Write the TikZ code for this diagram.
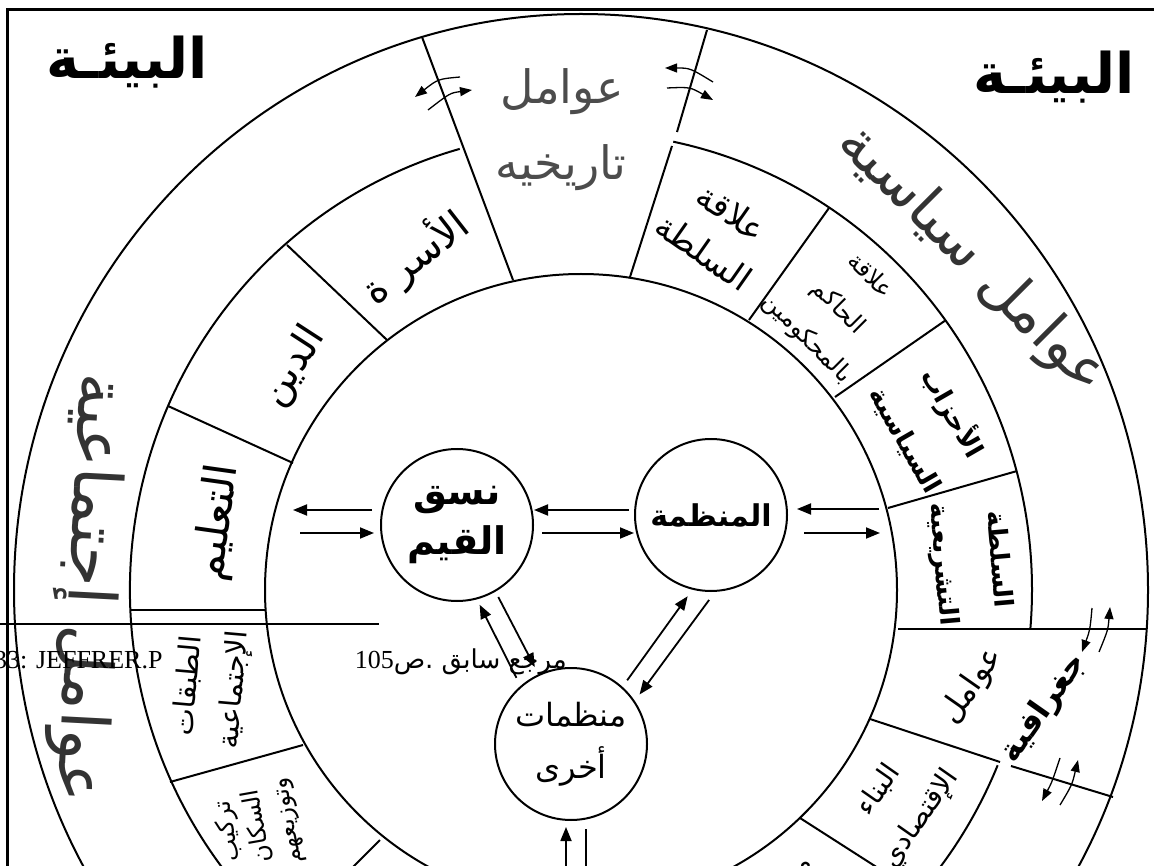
\documentclass[tikz,border=0pt]{standalone}
\usepackage{fontspec}
\usetikzlibrary{arrows.meta}
\newfontfamily\arabfont[Script=Arabic]{DejaVu Sans}
\newfontfamily\latinfont{Liberation Serif}
\TeXXeTstate=1
\newcommand{\artext}[1]{\beginR#1\endR}
\newcommand{\arsz}[2]{\arabfont\fontsize{#1}{#2}\selectfont}

\begin{document}
\begin{tikzpicture}[x=1pt,y=-1pt,
  ring/.style={line width=2pt},
  arr/.style={-{Triangle[length=14pt,width=11pt]},line width=1.8pt},
  swing/.style={-{Triangle[length=12pt,width=9pt]},line width=1.3pt},
  actor/.style={circle,draw,line width=2pt,minimum size=152pt,inner sep=0pt,align=center},
  lbl/.style={inner sep=0pt,align=center}]
\useasboundingbox (0,0) rectangle (1154,866);
\draw[line width=3pt] (7,900) -- (7,10) -- (1170,10);

% rings
\draw[ring] (581,590) circle[x radius=567,y radius=576];
\draw[ring] (581,590) circle[radius=316];
\draw[ring] (581,590) ++(-78.2:451 and 458) arc[start angle=-78.2,end angle=4.9,x radius=451,y radius=458];
\draw[ring] (581,590) ++(22.5:451 and 458) arc[start angle=22.5,end angle=254.4,x radius=451,y radius=458];

% separators
\draw[ring] (422,37) -- (513,280);
\draw[ring] (707,30) -- (677,132);
\draw[ring] (672,146) -- (630,277);
\draw[ring] (287,245) -- (387,340);
\draw[ring] (168,406) -- (293,463);
\draw[ring] (131,610) -- (265,610);
\draw[ring] (170,782) -- (303,745);
\draw[ring] (380,840) -- (340,880);
\draw[ring] (829,208) -- (749,320);
\draw[ring] (946,320) -- (835,397);
\draw[ring] (1017,471) -- (888,508);
\draw[ring] (898,629) -- (1147,629);
\draw[ring] (870,719) -- (1000,762);
\draw[ring] (1011,766) -- (1113,797);
\draw[ring] (800,818) -- (878,868);

% swing arrows
\draw[swing] (460,77) .. controls (438,79) .. (415,97);
\draw[swing] (428,110) .. controls (450,93) .. (472,90);
\draw[swing] (713,82) .. controls (690,68) .. (665,68);
\draw[swing] (667,88) .. controls (690,87) .. (713,100);
\draw[swing] (1099,652) .. controls (1108,630) .. (1110,607);
\draw[swing] (1092,608) .. controls (1090,630) .. (1082,652);
\draw[swing] (1060,805) .. controls (1072,785) .. (1078,760);
\draw[swing] (1060,758) .. controls (1052,782) .. (1042,801);

% labels
\node[lbl,font=\arsz{56}{60}\bfseries] (envL) at (127,62) {\artext{البيئـة}};
\node[lbl,font=\arsz{56}{60}\bfseries] (envR) at (1054,77) {\artext{البيئـة}};
\node[lbl,font=\arsz{46}{50},text=black!70] (histA) at (562,92) {\artext{عوامل}};
\node[lbl,font=\arsz{46}{50},text=black!70] (histB) at (561,168) {\artext{تاريخيه}};
\node[lbl,font=\arsz{58}{60},text=black!80,rotate=-45] (polit) at (972,260) {\artext{عوامل سياسية}};
\node[lbl,font=\arsz{66}{70},text=black!80,rotate=-93] (social) at (86,588) {\artext{عوامل إجتماعية}};
\node[lbl,font=\arsz{32}{40},rotate=55] (geoA) at (972,686) {\artext{عوامل}};
\node[lbl,font=\arsz{32}{40}\bfseries,rotate=55] (geoB) at (1044,708) {\artext{جغرافية}};
\node[lbl,font=\arsz{40}{48},rotate=38] (family) at (415,257) {\artext{الأسر ة}};
\node[lbl,font=\arsz{40}{48},rotate=57] (relig) at (294,367) {\artext{الدين}};
\node[lbl,font=\arsz{44}{48},rotate=82] (educ) at (218,523) {\artext{التعليم}};
\node[lbl,font=\arsz{29}{46},rotate=85] (classes) at (212,688) {\artext{الطبقات}\\\artext{الإجتماعية}};
\node[lbl,font=\arsz{24}{30},rotate=100] (popul) at (258,826) {\artext{تركيب}\\\artext{السكان}\\\artext{وتوزيعهم}};
\node[lbl,font=\arsz{34}{48},rotate=-35] (power) at (718,232) {\artext{علاقة}\\\artext{السلطة}};
\node[lbl,font=\arsz{24}{44},rotate=-45] (ruler) at (838,308) {\artext{علاقة}\\\artext{الحاكم}\\\artext{بالمحكومين}};
\node[lbl,font=\arsz{26}{54}\bfseries,rotate=-60] (parties) at (930,426) {\artext{الأحزاب}\\\artext{السياسية}};
\node[lbl,font=\arsz{26}{56}\bfseries,rotate=-85] (legis) at (970,562) {\artext{السلطة}\\\artext{التشريعية}};
\node[lbl,font=\arsz{28}{50},rotate=55] (econ) at (900,805) {\artext{البناء}\\\artext{الإقتصادي}};
\node[lbl,font=\arsz{26}{30},rotate=55] (nextR) at (808,870) {\artext{م}};

% actors
\node[actor,font=\arsz{38}{50}\bfseries] (nasaq) at (457,525) {\artext{نسق}\\\artext{القيم}};
\node[actor,font=\arsz{30}{50}\bfseries] (mun) at (711,515) {\artext{المنظمة}};
\node[actor,font=\arsz{32}{52}] (org) at (571,744) {\artext{منظمات}\\\artext{أخرى}};

\coordinate (ringW1) at (293,510);
\coordinate (ringW2) at (300,533);
\coordinate (ringE1) at (879,509);
\coordinate (ringE2) at (880,533);
\coordinate (baseS1) at (566,880);
\coordinate (baseS2) at (586,880);

\draw[arr,shorten <=8pt] (nasaq.west |- ringW1) -- (ringW1);
\draw[arr,shorten >=6pt] (ringW2) -- (nasaq.west |- ringW2);
\draw[arr,shorten <=5pt] (mun.west |- ringW1) -- (nasaq.east |- ringW1);
\draw[arr,shorten <=8pt] (nasaq.east |- ringW2) -- (mun.west |- ringW2);
\draw[arr,shorten >=9pt] (ringE1) -- (mun.east |- ringE1);
\draw[arr,shorten <=16pt] (mun.east |- ringE2) -- (ringE2);
\draw[arr,shorten <=9pt,shorten >=6pt] (org.131) -- (nasaq.-75);
\draw[arr,shorten <=6pt,shorten >=8pt] (nasaq.-60) -- (org.115);
\draw[arr,shorten <=8pt,shorten >=8pt] (org.48) -- (mun.256);
\draw[arr,shorten <=10pt,shorten >=8pt] (mun.-87) -- (org.34);
\draw[arr,shorten >=6pt] (baseS1) -- (org.south -| baseS1);
\draw[line width=1.8pt,shorten >=8pt] (baseS2) -- (org.south -| baseS2);

% footnote
\draw[line width=1.5pt] (0,624) -- (379,624);
\node[anchor=base west,inner sep=0pt,font=\latinfont\fontsize{26}{30}\selectfont] (fnref) at (-6,668) {33: JEFFRER.P};
\node[anchor=base east,inner sep=0pt,font=\arsz{26}{30}] (fnsrc) at (567,668) {\artext{مرجع سابق .ص\beginL{\latinfont 105}\endL}};
\end{tikzpicture}
\end{document}
